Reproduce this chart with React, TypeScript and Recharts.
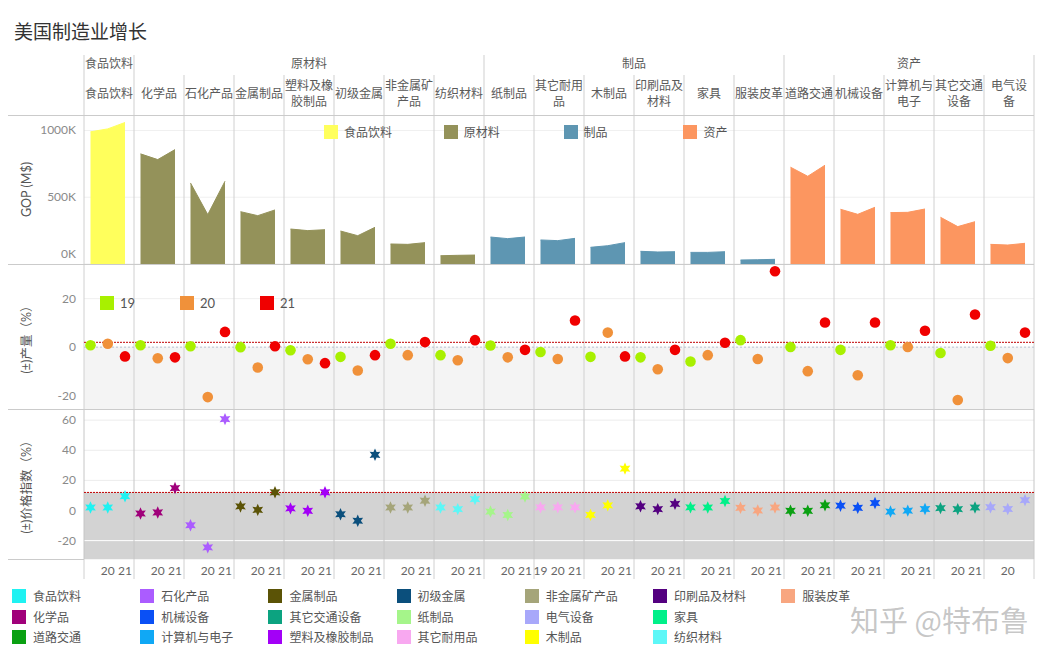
import React from 'react';
import {
  ComposedChart,
  Area,
  Scatter,
  XAxis,
  YAxis,
  CartesianGrid,
  ReferenceLine,
  ReferenceArea,
  Legend,
} from 'recharts';

// ---------------- data ----------------
const categories = [
  '食品饮料', '化学品', '石化产品', '金属制品', '塑料及橡胶制品', '初级金属', '非金属矿产品', '纺织材料',
  '纸制品', '其它耐用品', '木制品', '印刷品及材料', '家具', '服装皮革',
  '道路交通', '机械设备', '计算机与电子', '其它交通设备', '电气设备',
];
const headerLabels = [
  '食品饮料', '化学品', '石化产品', '金属制品', '塑料及橡\n胶制品', '初级金属', '非金属矿\n产品', '纺织材料',
  '纸制品', '其它耐用\n品', '木制品', '印刷品及\n材料', '家具', '服装皮革',
  '道路交通', '机械设备', '计算机与\n电子', '其它交通\n设备', '电气设\n备',
];
const groups = ['食品饮料', '原材料', '制品', '资产'];
const groupSizes = [1, 7, 6, 5];
const groupColors = ['#ffff5c', '#94925a', '#5e96b2', '#fc9660'];

const years = ['19', '20', '21'];
const yearColors = ['#a8f000', '#f0913a', '#f00000'];

// GOP (K M$)
const gop19 = [990, 825, 607, 392, 262, 247, 150, 62, 202, 180, 125, 95, 87, 30, 725, 410, 385, 350, 147];
const gop20 = [1012, 782, 370, 362, 250, 212, 147, 65, 190, 175, 137, 90, 87, 32, 657, 372, 387, 280, 142];
const gop21 = [1060, 857, 620, 405, 257, 275, 160, 67, 202, 192, 160, 92, 92, 35, 740, 425, 412, 317, 155];

// production change (%)
const prod19 = [0.8, 0.8, 0.4, 0, -1.3, -4.0, 1.4, -3.3, 0.7, -2.0, -4.0, -4.2, -5.9, 2.9, 0.1, -1.1, 0.8, -2.4, 0.6];
const prod20 = [1.4, -4.6, -20.6, -8.4, -5.0, -9.6, -3.3, -5.4, -4.2, -4.9, 6.0, -9.1, -3.3, -4.9, -9.9, -11.6, 0.1, -21.8, -4.5];
const prod21 = [-3.8, -4.2, 6.3, 0.4, -6.6, -3.3, 2.1, 2.9, -1.1, 11.0, -3.8, -1.1, 1.8, 31.3, 10.2, 10.2, 6.8, 13.5, 6.0];
const prodReference = 2.0;

// price index change (%)
const price19 = [2.0, -2.0, -9.8, 2.7, 1.4, -2.5, 2.0, 2.0, -0.7, 2.1, -2.9, 2.8, 2.1, 1.8, -0.2, 3.2, -0.7, 1.6, 2.2];
const price20 = [2.0, -1.3, -24.5, 0.4, -0.2, -6.8, 2.0, 0.9, -3.0, 2.1, 3.4, 0.9, 2.0, 0, -0.2, 1.8, -0.1, 0.9, 1.0];
const price21 = [9.5, 14.9, 60.7, 12.1, 12.1, 37.0, 6.5, 7.6, 9.3, 2.1, 27.8, 4.4, 6.3, 2.0, 3.5, 5.0, 1.0, 2.0, 6.9];
const priceReference = 12.0;

const categoryColors = [
  '#1ff2f2', '#a0007a', '#ab5cff', '#5b5306', '#a300f7', '#0b4f7c', '#a5a57a', '#5df7f7',
  '#a5f58a', '#f8a8f0', '#ffff00', '#540080', '#00f089', '#f8a680',
  '#0aa012', '#0a50f5', '#10a8f5', '#0ca380', '#a8a8fa',
];
const legendOrder = [
  '食品饮料', '化学品', '道路交通', '石化产品', '机械设备', '计算机与电子', '金属制品', '其它交通设备',
  '塑料及橡胶制品', '初级金属', '纸制品', '其它耐用品', '非金属矿产品', '电气设备', '木制品',
  '印刷品及材料', '家具', '纺织材料', '服装皮革',
];
// year labels shown on the bottom axis, per category
const axisYearLabels = [
  ['20', '21'], ['20', '21'], ['20', '21'], ['20', '21'], ['20', '21'], ['20', '21'], ['20', '21'], ['20', '21'],
  ['20', '21'], ['19', '20', '21'], ['20', '21'], ['20', '21'], ['20', '21'], ['20', '21'],
  ['20', '21'], ['20', '21'], ['20', '21'], ['20', '21'], ['20'],
];

// ---------------- layout constants ----------------
const CJK = '"Noto Sans CJK SC", "Noto Sans", sans-serif';
const LAT = 'Lato, "Noto Sans", "Noto Sans CJK SC", sans-serif';
const W = 1047;
const PLOT_LEFT = 84;
const RIGHT = 13;
const yearOffsets = [0.13, 0.475, 0.82];
const N = categories.length;
const boundaries = Array.from({ length: N + 1 }, (_, i) => i);
const groupStarts = groupSizes.map((_, k) => groupSizes.slice(0, k).reduce((a, b) => a + b, 0));
const groupBoundaries = [...groupStarts, N];
const groupOf = categories.map((_, i) => groupStarts.filter((s) => s <= i).length - 1);

const GOP_DOMAIN = [0, 1116];
const PROD_DOMAIN = [-25.5, 34.3];
const PRICE_DOMAIN = [-32.2, 67.4];

const gopSeries = [gop19, gop20, gop21];
const prodSeries = [prod19, prod20, prod21];
const priceSeries = [price19, price20, price21];

const gopRows: any[] = [];
categories.forEach((_, i) => {
  const key = `g${groupOf[i]}`;
  gopSeries.forEach((s, j) => gopRows.push({ x: i + yearOffsets[j], [key]: s[i] }));
  gopRows.push({ x: i + 0.95 });
});

const prodData = prodSeries.map((s, j) => categories.map((_, i) => ({ x: i + yearOffsets[j], y: s[i] })));
const priceData = categories.map((_, i) => priceSeries.map((s, j) => ({ x: i + yearOffsets[j], y: s[i] })));

const yearTickValues = axisYearLabels.flatMap((ys, i) => ys.map((y) => i + yearOffsets[years.indexOf(y)]));
const bottomTicks = [...boundaries, ...yearTickValues].sort((a, b) => a - b);
const headerData = categories.map((c, i) => ({ x: i + 0.5, name: c }));

// ---------------- small components ----------------
const HeaderCell = ({ viewBox, text }: any) => {
  if (!viewBox) return null;
  const lines = String(text).split('\n');
  const cx = viewBox.x + viewBox.width / 2;
  const cy = viewBox.y + viewBox.height / 2 - 1.5;
  const lh = 15.5;
  const y0 = cy - ((lines.length - 1) * lh) / 2;
  return (
    <text textAnchor="middle" fontSize={12} fill="#5a5a5a" fontFamily={CJK}>
      {lines.map((l, k) => (
        <tspan key={k} x={cx} y={y0 + k * lh} dy="0.36em">{l}</tspan>
      ))}
    </text>
  );
};

const AxisTitle = ({ viewBox, text }: any) => {
  if (!viewBox) return null;
  const cx = viewBox.x + 27;
  const cy = viewBox.y + viewBox.height / 2;
  return (
    <text x={cx} y={cy} dy="0.35em" transform={`rotate(-90 ${cx} ${cy})`} textAnchor="middle" fontSize={12.5} fill="#555" fontFamily={LAT}>
      {text}
    </text>
  );
};

const YTick = (p: any) => {
  const { x, y, payload, suffix = '', liftZero = 0 } = p;
  const v = payload.value;
  const dy = v === 0 && liftZero ? 4 - liftZero : 4;
  return (
    <text x={x} y={y} dy={dy} textAnchor="end" fontSize={12} fill="#8a8a8a" fontFamily={LAT}>
      {`${v}${suffix}`}
    </text>
  );
};

const XTick = (p: any) => {
  const { x, y, payload } = p;
  const v = payload.value;
  if (Math.abs(v - Math.round(v)) < 1e-6) {
    return <line x1={x} x2={x} y1={y} y2={y + 20} stroke="#d0d0d0" />;
  }
  const frac = v - Math.floor(v);
  let j = 0;
  yearOffsets.forEach((o, k) => {
    if (Math.abs(o - frac) < Math.abs(yearOffsets[j] - frac)) j = k;
  });
  return (
    <text x={x} y={y + 16} textAnchor="middle" fontSize={12} fill="#666" fontFamily={LAT}>
      {years[j]}
    </text>
  );
};

const Dot = (p: any) => <circle cx={p.cx} cy={p.cy} r={5.3} fill={p.fill} />;

const Star = (p: any) => {
  const { cx, cy, fill } = p;
  const pts: string[] = [];
  for (let k = 0; k < 12; k++) {
    const a = (-90 + k * 30) * (Math.PI / 180);
    const r = k % 2 === 0 ? 6.2 : 3.1;
    pts.push(`${cx + r * Math.cos(a)},${cy + r * Math.sin(a)}`);
  }
  return <polygon points={pts.join(' ')} fill={fill} />;
};

const sortBy = (payload: any, order: string[]) =>
  [...(payload || [])].sort((a: any, b: any) => order.indexOf(a.value) - order.indexOf(b.value));

const GroupLegend = ({ payload }: any) => (
  <div style={{ display: 'flex', height: 14 }}>
    {sortBy(payload, groups).map((it: any) => (
      <div key={it.value} style={{ width: 119.8, display: 'flex', alignItems: 'center', height: 14 }}>
        <span style={{ width: 14, height: 14, background: it.color, display: 'inline-block', flex: 'none' }} />
        <span style={{ marginLeft: 6, fontSize: 12, color: '#555', fontFamily: CJK, lineHeight: '14px', whiteSpace: 'nowrap' }}>{it.value}</span>
      </div>
    ))}
  </div>
);

const YearLegend = ({ payload }: any) => (
  <div style={{ display: 'flex', height: 14 }}>
    {sortBy(payload, years).map((it: any) => (
      <div key={it.value} style={{ width: 80, display: 'flex', alignItems: 'center', height: 14 }}>
        <span style={{ width: 14, height: 14, background: it.color, display: 'inline-block', flex: 'none' }} />
        <span style={{ marginLeft: 6, fontSize: 13, color: '#555', fontFamily: LAT, lineHeight: '14px' }}>{it.value}</span>
      </div>
    ))}
  </div>
);

const CategoryLegend = ({ payload }: any) => {
  const items = sortBy(payload, legendOrder);
  return (
    <div style={{ position: 'relative', width: 920, height: 60 }}>
      {items.map((it: any, k: number) => (
        <div
          key={it.value}
          style={{
            position: 'absolute',
            left: Math.floor(k / 3) * 128.2,
            top: (k % 3) * 20.5,
            display: 'flex',
            alignItems: 'center',
            height: 14,
          }}
        >
          <span style={{ width: 14, height: 14, background: it.color, display: 'inline-block', flex: 'none' }} />
          <span style={{ marginLeft: 7, fontSize: 12, color: '#555', fontFamily: CJK, lineHeight: '14px', whiteSpace: 'nowrap' }}>{it.value}</span>
        </div>
      ))}
    </div>
  );
};

const Hline = ({ top, left, width }: any) => (
  <div style={{ position: 'absolute', top, left, width, height: 1, background: '#cbcbcb' }} />
);

// ---------------- charts ----------------
const HeaderChart = () => (
  <ComposedChart width={W} height={60} data={headerData} margin={{ top: 0, right: RIGHT, bottom: 0, left: PLOT_LEFT }}>
    <XAxis type="number" dataKey="x" domain={[0, N]} hide allowDataOverflow />
    <YAxis type="number" domain={[0, 3]} hide allowDataOverflow />
    {boundaries.map((b) => (
      <ReferenceLine
        key={`b${b}`}
        segment={[{ x: b, y: 0 }, { x: b, y: groupBoundaries.includes(b) ? 3 : 2 }]}
        stroke="#cfcfcf"
      />
    ))}
    {categories.map((c, i) => (
      <ReferenceArea
        key={`c${i}`}
        x1={i}
        x2={i + 1}
        y1={0}
        y2={2}
        fill="none"
        stroke="none"
        label={(p: any) => <HeaderCell viewBox={p.viewBox} text={headerLabels[i]} />}
      />
    ))}
    {groups.map((g, k) => (
      <ReferenceArea
        key={`g${k}`}
        x1={groupStarts[k]}
        x2={groupStarts[k] + groupSizes[k]}
        y1={2}
        y2={3}
        fill="none"
        stroke="none"
        label={(p: any) => <HeaderCell viewBox={p.viewBox} text={g} />}
      />
    ))}
  </ComposedChart>
);

const GopChart = () => (
  <ComposedChart width={W} height={149} data={gopRows} margin={{ top: 0, right: RIGHT, bottom: 0, left: 0 }}>
    <CartesianGrid vertical={false} stroke="#f0f0f0" />
    <XAxis type="number" dataKey="x" domain={[0, N]} hide allowDataOverflow />
    <YAxis
      type="number"
      domain={GOP_DOMAIN}
      ticks={[0, 500, 1000]}
      interval={0}
      width={PLOT_LEFT}
      axisLine={false}
      tickLine={false}
      tickSize={0}
      tickMargin={8}
      allowDataOverflow
      tick={(p: any) => <YTick {...p} suffix="K" liftZero={10} />}
      label={{ content: (p: any) => <AxisTitle viewBox={p.viewBox} text="GOP (M$)" /> }}
    />
    {boundaries.map((b) => (
      <ReferenceLine key={`v${b}`} x={b} stroke="#d0d0d0" />
    ))}
    {groups.map((g, k) => (
      <Area
        key={g}
        dataKey={`g${k}`}
        name={g}
        type="linear"
        fill={groupColors[k]}
        stroke={groupColors[k]}
        fillOpacity={1}
        baseValue={0}
        connectNulls={false}
        dot={false}
        activeDot={false}
        isAnimationActive={false}
      />
    ))}
    <Legend
      layout="horizontal"
      verticalAlign="middle"
      align="center"
      wrapperStyle={{ left: 324, top: 10, width: 520, height: 14 }}
      content={GroupLegend}
    />
  </ComposedChart>
);

const ProdChart = () => (
  <ComposedChart width={W} height={145} margin={{ top: 0, right: RIGHT, bottom: 0, left: 0 }}>
    <CartesianGrid vertical={false} stroke="#efefef" />
    <ReferenceArea y1={PROD_DOMAIN[0]} y2={0} fill="#f4f4f4" fillOpacity={1} stroke="none" />
    <XAxis type="number" dataKey="x" domain={[0, N]} hide allowDataOverflow />
    <YAxis
      type="number"
      dataKey="y"
      domain={PROD_DOMAIN}
      ticks={[-20, 0, 20]}
      interval={0}
      width={PLOT_LEFT}
      axisLine={false}
      tickLine={false}
      tickSize={0}
      tickMargin={8}
      allowDataOverflow
      tick={(p: any) => <YTick {...p} />}
      label={{ content: (p: any) => <AxisTitle viewBox={p.viewBox} text="(±)产量（%）" /> }}
    />
    {boundaries.map((b) => (
      <ReferenceLine key={`v${b}`} x={b} stroke="#d0d0d0" />
    ))}
    <ReferenceLine y={0} stroke="#b9c3d1" strokeDasharray="2 2" />
    <ReferenceLine y={prodReference} stroke="#c00000" strokeDasharray="2 1" />
    {years.map((y, j) => (
      <Scatter
        key={y}
        name={y}
        data={prodData[j]}
        dataKey="y"
        fill={yearColors[j]}
        shape={Dot}
        isAnimationActive={false}
      />
    ))}
    <Legend
      layout="horizontal"
      verticalAlign="middle"
      align="center"
      wrapperStyle={{ left: 100, top: 32, width: 300, height: 14 }}
      content={YearLegend}
    />
  </ComposedChart>
);

const PriceChart = () => (
  <ComposedChart width={W} height={251} margin={{ top: 0, right: RIGHT, bottom: 79, left: 0 }}>
    <CartesianGrid vertical={false} stroke="#ececec" />
    <ReferenceArea y1={PRICE_DOMAIN[0]} y2={priceReference} fill="#d3d3d3" fillOpacity={1} stroke="none" />
    <XAxis
      type="number"
      dataKey="x"
      domain={[0, N]}
      allowDataOverflow
      ticks={bottomTicks}
      interval={0}
      height={22}
      axisLine={false}
      tickLine={false}
      tickSize={0}
      tickMargin={0}
      tick={(p: any) => <XTick {...p} />}
    />
    <YAxis
      type="number"
      dataKey="y"
      domain={PRICE_DOMAIN}
      ticks={[-20, 0, 20, 40, 60]}
      interval={0}
      width={PLOT_LEFT}
      axisLine={false}
      tickLine={false}
      tickSize={0}
      tickMargin={8}
      allowDataOverflow
      tick={(p: any) => <YTick {...p} />}
      label={{ content: (p: any) => <AxisTitle viewBox={p.viewBox} text="(±)价格指数（%）" /> }}
    />
    <ReferenceLine y={-20} stroke="#ffffff" />
    {boundaries.map((b) => (
      <ReferenceLine key={`v${b}`} x={b} stroke="#c6c6c6" />
    ))}
    <ReferenceLine y={priceReference} stroke="#c00000" strokeDasharray="2 1" />
    {categories.map((c, i) => (
      <Scatter
        key={c}
        name={c}
        data={priceData[i]}
        dataKey="y"
        fill={categoryColors[i]}
        shape={Star}
        isAnimationActive={false}
      />
    ))}
    <Legend
      layout="horizontal"
      verticalAlign="middle"
      align="center"
      wrapperStyle={{ left: 12, top: 180, width: 920, height: 60 }}
      content={CategoryLegend}
    />
  </ComposedChart>
);

export default function App() {
  return (
    <div style={{ position: 'absolute', left: 0, top: 0, width: W, height: 660, background: '#fff', overflow: 'hidden' }}>
      <div style={{ position: 'absolute', left: 14, top: 21, fontSize: 19, lineHeight: '19px', color: '#333', fontFamily: CJK }}>
        美国制造业增长
      </div>
      <div style={{ position: 'absolute', left: 0, top: 55 }}>
        <HeaderChart />
      </div>
      <div style={{ position: 'absolute', left: 0, top: 115 }}>
        <GopChart />
      </div>
      <div style={{ position: 'absolute', left: 0, top: 264 }}>
        <ProdChart />
      </div>
      <div style={{ position: 'absolute', left: 0, top: 409 }}>
        <PriceChart />
      </div>
      <Hline top={115} left={8} width={1026} />
      <Hline top={264} left={8} width={1026} />
      <Hline top={409} left={8} width={1026} />
      <Hline top={559} left={8} width={76} />
      <div
        style={{
          position: 'absolute',
          left: 850,
          top: 605,
          fontSize: 29,
          lineHeight: '29px',
          color: 'rgba(150,150,150,0.55)',
          fontFamily: CJK,
          whiteSpace: 'nowrap',
        }}
      >
        知乎 @特布鲁
      </div>
    </div>
  );
}
